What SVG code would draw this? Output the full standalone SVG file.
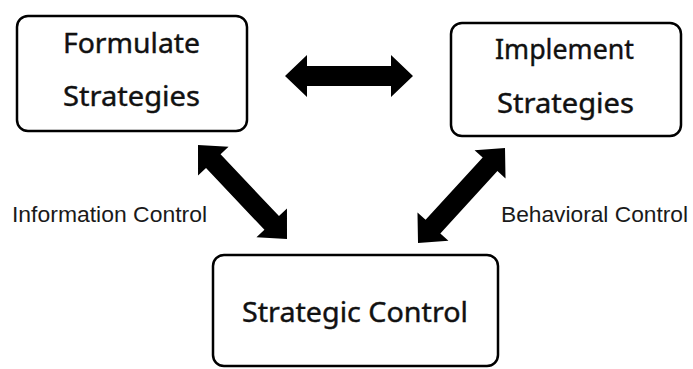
<svg xmlns="http://www.w3.org/2000/svg" width="693" height="369" viewBox="0 0 693 369">
  <defs>
    <style>
      .box { fill: #ffffff; stroke: #000000; stroke-width: 2.5; }
      .lbl { font-family: "Noto Sans", "Open Sans", "Liberation Sans", sans-serif; font-size: 27px; font-weight: 400; fill: #111111; stroke: #111111; stroke-width: 0.4; }
      .side { font-family: "Liberation Sans", "DejaVu Sans", sans-serif; font-size: 22px; fill: #1a1a1a; }
      .arrow { fill: #000000; }
    </style>
    <polygon id="dbl" points="0,0 22,-21 22,-10 106,-10 106,-21 128,0 106,21 106,10 22,10 22,21"/>
  </defs>
  <rect x="0" y="0" width="693" height="369" fill="#ffffff"/>

  <g id="connectors">
    <use href="#dbl" class="arrow" transform="translate(285,76)"/>
    <use href="#dbl" class="arrow" transform="translate(198,145) rotate(46.6) scale(1.012,1)"/>
    <use href="#dbl" class="arrow" transform="translate(505,148) rotate(132.5) scale(1.006,1)"/>
  </g>

  <g id="formulate">
    <rect class="box" x="17" y="16" width="230" height="115" rx="11"/>
    <text class="lbl" x="63" y="53" textLength="137" lengthAdjust="spacingAndGlyphs">Formulate</text>
    <text class="lbl" x="63" y="106" textLength="137" lengthAdjust="spacingAndGlyphs">Strategies</text>
  </g>

  <g id="implement">
    <rect class="box" x="451" y="23" width="230" height="113" rx="11"/>
    <text class="lbl" x="495" y="59" textLength="139" lengthAdjust="spacingAndGlyphs">Implement</text>
    <text class="lbl" x="497" y="113" textLength="137" lengthAdjust="spacingAndGlyphs">Strategies</text>
  </g>

  <g id="strategic">
    <rect class="box" x="213" y="255" width="285" height="111" rx="11"/>
    <text class="lbl" x="242" y="322" textLength="226" lengthAdjust="spacingAndGlyphs">Strategic Control</text>
  </g>

  <g id="labels">
    <text class="side" x="12" y="222" textLength="195" lengthAdjust="spacingAndGlyphs">Information Control</text>
    <text class="side" x="501" y="222" textLength="187" lengthAdjust="spacingAndGlyphs">Behavioral Control</text>
  </g>
</svg>
